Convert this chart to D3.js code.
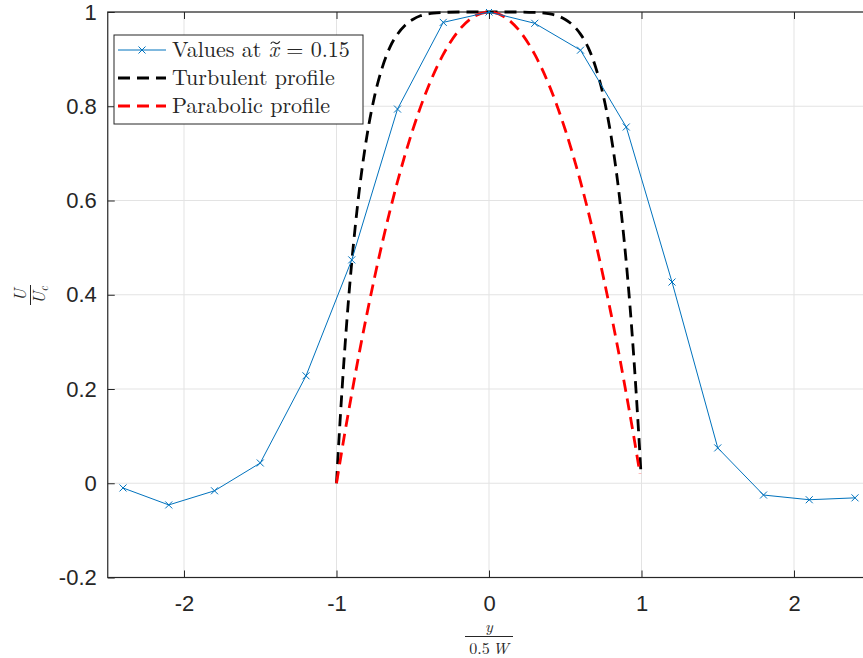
<!DOCTYPE html>
<html>
<head>
<meta charset="utf-8">
<script src="https://cdn.jsdelivr.net/npm/d3@7"></script>
<style>
html,body{margin:0;padding:0;background:#fff;overflow:hidden;}
svg{display:block;}
</style>
</head>
<body>
<svg id="chart" width="863" height="658"></svg>
<script>
// ---- data ----
const measY = [-2.4,-2.1,-1.8,-1.5,-1.2,-0.9,-0.6,-0.3,0,0.3,0.6,0.9,1.2,1.5,1.8,2.1,2.4];
const measU = [-0.010,-0.046,-0.016,0.043,0.228,0.474,0.794,0.978,1.0,0.976,0.919,0.756,0.427,0.075,-0.025,-0.035,-0.031];

const turbY = [-1,-0.99,-0.98,-0.965,-0.95,-0.925,-0.9,-0.875,-0.85,-0.8,-0.75,-0.7,-0.65,-0.6,-0.55,-0.5,-0.45,-0.4,-0.3,-0.2,0,0.2,0.3,0.4,0.45,0.5,0.55,0.6,0.65,0.7,0.75,0.8,0.85,0.875,0.9,0.925,0.95,0.965,0.98,0.99,0.996];
const turbU = [0,0.059,0.114,0.192,0.265,0.374,0.469,0.551,0.623,0.738,0.822,0.882,0.925,0.953,0.972,0.984,0.992,0.996,0.999,1,1,1,0.999,0.996,0.992,0.984,0.972,0.953,0.925,0.882,0.822,0.738,0.623,0.551,0.469,0.374,0.265,0.192,0.114,0.059,0.024];

const paraY = [-1,-0.95,-0.9,-0.85,-0.8,-0.7,-0.6,-0.5,-0.4,-0.3,-0.2,-0.1,0,0.1,0.2,0.3,0.4,0.5,0.6,0.7,0.8,0.85,0.9,0.95,0.99];
const paraU = [0,0.098,0.19,0.278,0.36,0.51,0.64,0.75,0.84,0.91,0.96,0.99,1,0.99,0.96,0.91,0.84,0.75,0.64,0.51,0.36,0.278,0.19,0.098,0.02];

const xTicks = [-2,-1,0,1,2];
const xTickLabels = ["-2","-1","0","1","2"];
const yTicks = [-0.2,0,0.2,0.4,0.6,0.8,1];
const yTickLabels = ["-0.2","0","0.2","0.4","0.6","0.8","1"];
const legendLabels = ["Values at", "Turbulent profile", "Parabolic profile"];

// ---- layout ----
const svg = d3.select("#chart");
const L = 107.75, R = 870.25, T = 12, B = 577.5;
const x = d3.scaleLinear().domain([-2.5,2.5]).range([L,R]);
const y = d3.scaleLinear().domain([-0.2,1]).range([B,T]);
const axisCol = "#262626";
const tickFont = "'Liberation Sans', Arial, sans-serif";
const serif = "'Latin Modern Roman','CMU Serif','Liberation Serif','Times New Roman',serif";

// grid
const grid = svg.append("g");
grid.selectAll("line.gx").data(xTicks).join("line")
  .attr("x1", d=>x(d)).attr("x2", d=>x(d)).attr("y1", T).attr("y2", B)
  .attr("stroke", "#e3e3e3").attr("stroke-width", 1);
grid.selectAll("line.gy").data(yTicks).join("line")
  .attr("y1", d=>y(d)).attr("y2", d=>y(d)).attr("x1", L).attr("x2", R)
  .attr("stroke", "#e3e3e3").attr("stroke-width", 1);

// axes via d3 axis (inward ticks)
const tl = 7;
const xAxisB = d3.axisBottom(x).tickValues(xTicks).tickSizeInner(-tl).tickSizeOuter(0).tickPadding(18)
  .tickFormat((d,i) => xTickLabels[i]);
const xAxisT = d3.axisTop(x).tickValues(xTicks).tickSizeInner(-tl).tickSizeOuter(0).tickFormat("");
const yAxisL = d3.axisLeft(y).tickValues(yTicks).tickSizeInner(-tl).tickSizeOuter(0).tickPadding(11)
  .tickFormat((d,i) => yTickLabels[i]);
const yAxisR = d3.axisRight(y).tickValues(yTicks).tickSizeInner(-tl).tickSizeOuter(0).tickFormat("");

function style(g){
  g.select(".domain").remove();
  g.selectAll(".tick line").attr("stroke", axisCol).attr("stroke-width", 1);
  g.selectAll(".tick text").attr("fill", axisCol).attr("font-family", tickFont).attr("font-size", 22);
}
svg.append("g").attr("transform", `translate(0,${B})`).call(xAxisB).call(style);
svg.append("g").attr("transform", `translate(0,${T})`).call(xAxisT).call(style);
svg.append("g").attr("transform", `translate(${L},0)`).call(yAxisL).call(style);
svg.append("g").attr("transform", `translate(${R},0)`).call(yAxisR).call(style);

// box
svg.append("rect").attr("x", L).attr("y", T).attr("width", R-L).attr("height", B-T)
  .attr("fill", "none").attr("stroke", axisCol).attr("stroke-width", 1.2);

// clip
svg.append("clipPath").attr("id","clip").append("rect")
  .attr("x", L).attr("y", T-3).attr("width", R-L).attr("height", B-T+6);
const plot = svg.append("g").attr("clip-path", "url(#clip)");

const line = d3.line().x(d=>x(d[0])).y(d=>y(d[1])).curve(d3.curveMonotoneX);
const turb = turbY.map((v,i)=>[v, turbU[i]]);
const para = paraY.map((v,i)=>[v, paraU[i]]);
const meas = measY.map((v,i)=>[v, measU[i]]);
const dash = "12,7", dw = 2.8;

plot.append("path").attr("d", line(turb)).attr("fill","none")
  .attr("stroke","#000").attr("stroke-width",dw).attr("stroke-dasharray",dash);
plot.append("path").attr("d", line(para)).attr("fill","none")
  .attr("stroke","#ff0000").attr("stroke-width",dw).attr("stroke-dasharray",dash);

const blue = "#0072BD";
plot.append("path").attr("d", d3.line().x(d=>x(d[0])).y(d=>y(d[1]))(meas))
  .attr("fill","none").attr("stroke", blue).attr("stroke-width",1);
const ms = 3.5;
plot.selectAll("path.mk").data(meas).join("path")
  .attr("d", d => `M${x(d[0])-ms},${y(d[1])-ms}L${x(d[0])+ms},${y(d[1])+ms}M${x(d[0])-ms},${y(d[1])+ms}L${x(d[0])+ms},${y(d[1])-ms}`)
  .attr("stroke", blue).attr("stroke-width",1).attr("fill","none");

// legend
const lg = svg.append("g");
lg.append("rect").attr("x",114).attr("y",35).attr("width",249).attr("height",89)
  .attr("fill","#fff").attr("stroke",axisCol).attr("stroke-width",1);
const ly = [50, 78, 106];
const lx1 = 118, lx2 = 166;
lg.append("line").attr("x1",lx1).attr("x2",lx2).attr("y1",ly[0]).attr("y2",ly[0]).attr("stroke",blue).attr("stroke-width",1);
lg.append("path").attr("d",`M${(lx1+lx2)/2-ms},${ly[0]-ms}L${(lx1+lx2)/2+ms},${ly[0]+ms}M${(lx1+lx2)/2-ms},${ly[0]+ms}L${(lx1+lx2)/2+ms},${ly[0]-ms}`)
  .attr("stroke",blue).attr("stroke-width",1);
lg.append("line").attr("x1",lx1).attr("x2",lx2).attr("y1",ly[1]).attr("y2",ly[1]).attr("stroke","#000").attr("stroke-width",dw).attr("stroke-dasharray",dash);
lg.append("line").attr("x1",lx1).attr("x2",lx2).attr("y1",ly[2]).attr("y2",ly[2]).attr("stroke","#ff0000").attr("stroke-width",dw).attr("stroke-dasharray",dash);

const t0 = lg.append("text").attr("x",172).attr("y",ly[0]+7).attr("font-family",serif).attr("font-size",22).attr("fill",axisCol);
t0.append("tspan").text(legendLabels[0] + " ");
t0.append("tspan").attr("font-style","italic").text("x");
t0.append("tspan").text(" = 0.15");
// tilde accent over the italic x, drawn as a small curve
{
  const node = t0.node();
  const n0 = legendLabels[0].length + 1;
  const start = node.getSubStringLength(0, n0);
  const wx = node.getSubStringLength(n0, 1);
  const cx = 172 + start + wx/2 + 1.5, cy = ly[0] + 7 - 14.5;
  lg.append("path")
    .attr("d", `M${cx-4.5},${cy+1.2}C${cx-2.5},${cy-2.2} ${cx-0.5},${cy+0.5} ${cx+1},${cy+1} C${cx+2.5},${cy+1.6} ${cx+3.5},${cy} ${cx+4.5},${cy-1.2}`)
    .attr("fill","none").attr("stroke",axisCol).attr("stroke-width",1.2);
}
lg.append("text").attr("x",172).attr("y",ly[1]+7).attr("font-family",serif).attr("font-size",22).attr("fill",axisCol).text(legendLabels[1]);
lg.append("text").attr("x",172).attr("y",ly[2]+7).attr("font-family",serif).attr("font-size",22).attr("fill",axisCol).text(legendLabels[2]);

// x label (fraction)
const xl = svg.append("g").attr("transform","translate(489,636.5)");
xl.append("text").attr("text-anchor","middle").attr("y",-4.5).attr("font-family",serif).attr("font-size",16).attr("font-style","italic").attr("fill",axisCol).text("y");
xl.append("line").attr("x1",-24).attr("x2",24).attr("y1",0).attr("y2",0).attr("stroke",axisCol).attr("stroke-width",1);
const xd = xl.append("text").attr("text-anchor","middle").attr("y",17).attr("font-family",serif).attr("font-size",16).attr("fill",axisCol);
xd.append("tspan").text("0.5\u2009");
xd.append("tspan").attr("font-style","italic").text("W");

// y label (fraction, rotated)
const yl = svg.append("g").attr("transform","translate(30.5,295) rotate(-90)");
yl.append("text").attr("text-anchor","middle").attr("y",-5).attr("font-family",serif).attr("font-size",17).attr("font-style","italic").attr("fill",axisCol).text("U");
yl.append("line").attr("x1",-10).attr("x2",10).attr("y1",0).attr("y2",0).attr("stroke",axisCol).attr("stroke-width",1);
const yd = yl.append("text").attr("text-anchor","middle").attr("y",14).attr("font-family",serif).attr("font-size",17).attr("fill",axisCol);
yd.append("tspan").attr("font-style","italic").text("U");
yd.append("tspan").attr("font-style","italic").attr("font-size",12).attr("dy",3).text("c");
</script>
</body>
</html>
